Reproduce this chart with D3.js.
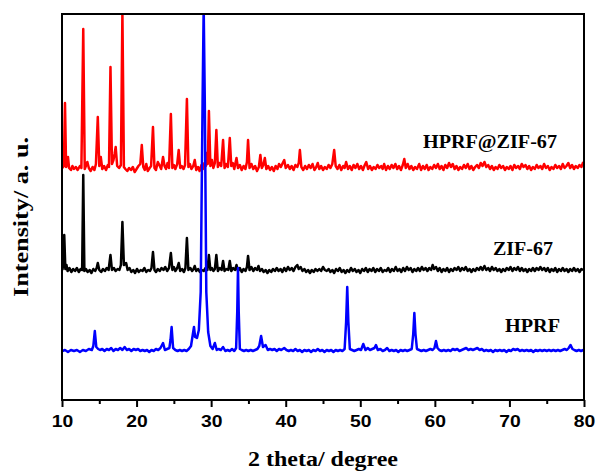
<!DOCTYPE html>
<html>
<head>
<meta charset="utf-8">
<script src="https://cdn.jsdelivr.net/npm/d3@7"></script>
<style>
  body { margin: 0; background: #fff; }
</style>
</head>
<body>
<svg class="svg1" width="598" height="474"></svg>
<script>
// x ticks
const xTicks = [10, 20, 30, 40, 50, 60, 70, 80];
const xMinorTicks = [15, 25, 35, 45, 55, 65, 75];

const seriesNames = ["HPRF@ZIF-67", "ZIF-67", "HPRF"];
const seriesColors = ["#ff0000", "#000000", "#0000ff"];
// vertical offsets (a.u.) of each pattern
const seriesOffsets = [228, 127, 48];

// [2theta, intensity a.u.]
const hprfZif67 = [
[10.05,4],[10.25,6],[10.4,69],[10.55,5],[10.7,8],[10.8,15],[10.95,4],[11.2,2],[11.4,6],[11.6,3],[11.85,5],[12.1,2],[12.4,6],[12.6,4],[12.85,143],[13.05,3],[13.2,6],[13.4,10],[13.6,4],[13.85,1],[14.1,5],[14.35,2],[14.55,8],[14.8,55],[15.0,6],[15.2,15],[15.4,3],[15.65,6],[15.9,2],[16.15,7],[16.3,5],[16.5,105],[16.7,8],[16.9,12],[17.05,18],[17.2,25],[17.4,6],[17.65,4],[17.9,7],[18.1,160],[18.3,5],[18.5,3],[18.75,1],[19.0,4],[19.25,2],[19.5,5],[19.75,0],[20.0,3],[20.25,6],[20.5,8],[20.7,27],[20.9,5],[21.1,2],[21.3,8],[21.5,1],[21.75,4],[21.95,6],[22.2,45],[22.4,4],[22.6,2],[22.85,10],[23.05,7],[23.3,3],[23.55,15],[23.75,6],[23.95,3],[24.15,9],[24.35,4],[24.6,58],[24.8,4],[25.0,7],[25.2,3],[25.45,8],[25.65,22],[25.85,4],[26.05,6],[26.3,3],[26.5,7],[26.75,73],[26.95,5],[27.15,8],[27.35,3],[27.6,6],[27.8,12],[28.0,2],[28.25,5],[28.45,1],[28.7,7],[28.9,3],[29.1,9],[29.3,6],[29.4,19],[29.55,8],[29.7,61],[29.9,6],[30.1,12],[30.3,4],[30.5,9],[30.7,42],[30.9,5],[31.1,9],[31.35,6],[31.6,32],[31.8,4],[32.0,8],[32.25,5],[32.5,34],[32.7,6],[32.9,9],[33.1,3],[33.4,14],[33.6,4],[33.85,7],[34.1,2],[34.35,6],[34.6,3],[34.8,10],[34.95,32],[35.15,4],[35.4,8],[35.65,3],[35.9,6],[36.15,1],[36.4,5],[36.6,17],[36.8,4],[37.0,7],[37.2,14],[37.4,3],[37.65,6],[37.9,2],[38.15,5],[38.4,1],[38.65,6],[38.9,3],[39.1,8],[39.35,5],[39.6,9],[39.8,12],[40.0,4],[40.3,7],[40.55,3],[40.8,6],[41.05,2],[41.3,7],[41.55,5],[41.75,9],[41.9,22],[42.1,5],[42.35,2],[42.6,6],[42.85,3],[43.1,7],[43.35,4],[43.6,8],[43.85,2],[44.1,5],[44.3,9],[44.5,3],[44.75,6],[45.0,2],[45.25,5],[45.5,3],[45.75,7],[46.0,4],[46.25,8],[46.5,22],[46.7,6],[46.95,3],[47.2,7],[47.45,2],[47.7,6],[47.9,4],[48.1,10],[48.35,3],[48.6,6],[48.85,2],[49.1,7],[49.35,4],[49.6,8],[49.85,3],[50.1,6],[50.35,2],[50.6,7],[50.8,10],[51.05,3],[51.3,6],[51.55,2],[51.8,5],[52.05,3],[52.3,7],[52.55,4],[52.8,6],[53.0,3],[53.2,8],[53.45,2],[53.7,6],[53.95,3],[54.2,7],[54.45,4],[54.7,8],[54.95,3],[55.2,6],[55.45,2],[55.7,7],[55.9,13],[56.1,4],[56.35,8],[56.6,3],[56.85,6],[57.1,2],[57.35,5],[57.6,3],[57.9,8],[58.15,2],[58.4,6],[58.65,3],[58.9,7],[59.15,2],[59.4,5],[59.65,3],[59.9,7],[60.15,4],[60.4,8],[60.65,3],[60.9,6],[61.15,2],[61.4,7],[61.65,4],[61.9,9],[62.15,5],[62.4,8],[62.65,3],[62.9,6],[63.15,2],[63.4,5],[63.65,3],[63.9,7],[64.15,4],[64.4,8],[64.65,3],[64.9,6],[65.15,2],[65.4,5],[65.65,7],[65.9,4],[66.15,9],[66.4,6],[66.65,10],[66.9,5],[67.15,7],[67.4,3],[67.65,6],[67.9,2],[68.15,5],[68.4,3],[68.65,7],[68.9,4],[69.15,6],[69.4,2],[69.65,5],[69.9,3],[70.15,6],[70.4,2],[70.65,7],[70.9,4],[71.15,6],[71.4,3],[71.65,8],[71.9,5],[72.15,7],[72.4,3],[72.65,6],[72.9,2],[73.15,5],[73.4,3],[73.65,7],[73.9,4],[74.15,6],[74.4,3],[74.65,8],[74.9,4],[75.15,6],[75.4,2],[75.65,5],[75.9,3],[76.15,7],[76.4,4],[76.65,6],[76.9,3],[77.15,8],[77.4,4],[77.65,6],[77.9,9],[78.15,4],[78.4,7],[78.65,3],[78.9,6],[79.15,4],[79.4,7],[79.65,5],[79.9,10]
];

const zif67 = [
[10.05,3],[10.2,10],[10.3,38],[10.45,4],[10.6,8],[10.75,2],[11.0,5],[11.25,1],[11.5,4],[11.75,2],[12.0,5],[12.25,1],[12.5,4],[12.7,3],[12.85,98],[13.0,2],[13.2,4],[13.45,1],[13.7,3],[13.95,0],[14.2,4],[14.45,2],[14.65,5],[14.8,10],[15.0,3],[15.25,1],[15.5,4],[15.75,2],[16.0,5],[16.25,3],[16.5,18],[16.7,3],[16.95,5],[17.2,2],[17.45,4],[17.7,3],[17.9,8],[18.1,51],[18.3,8],[18.6,10],[18.8,3],[19.05,5],[19.3,1],[19.55,3],[19.8,0],[20.05,4],[20.3,1],[20.55,3],[20.8,2],[21.05,5],[21.3,1],[21.55,3],[21.8,2],[22.0,5],[22.2,21],[22.4,3],[22.6,1],[22.85,4],[23.1,2],[23.35,5],[23.6,3],[23.85,6],[24.1,2],[24.35,5],[24.6,20],[24.8,3],[25.0,6],[25.2,2],[25.45,5],[25.65,10],[25.85,2],[26.1,4],[26.35,1],[26.55,5],[26.75,35],[26.95,3],[27.2,5],[27.45,2],[27.65,4],[27.8,7],[28.0,2],[28.25,4],[28.5,1],[28.75,3],[29.0,2],[29.25,5],[29.5,3],[29.7,18],[29.9,3],[30.1,5],[30.3,2],[30.5,4],[30.7,18],[30.9,2],[31.15,5],[31.4,3],[31.6,12],[31.8,2],[32.05,4],[32.3,3],[32.5,12],[32.7,2],[32.95,5],[33.2,3],[33.4,8],[33.6,2],[33.85,5],[34.1,1],[34.35,4],[34.6,2],[34.8,6],[34.95,17],[35.15,3],[35.4,6],[35.65,2],[35.9,5],[36.15,3],[36.35,7],[36.55,2],[36.8,4],[37.05,1],[37.3,3],[37.55,0],[37.8,3],[38.05,1],[38.3,4],[38.55,2],[38.8,5],[39.05,2],[39.3,4],[39.55,1],[39.8,5],[40.05,2],[40.3,6],[40.55,3],[40.8,5],[41.05,2],[41.3,6],[41.55,8],[41.75,4],[42.0,6],[42.25,2],[42.5,4],[42.75,1],[43.0,3],[43.25,0],[43.5,3],[43.75,1],[44.0,4],[44.25,2],[44.5,4],[44.75,2],[45.0,6],[45.25,3],[45.5,2],[45.75,4],[46.0,1],[46.25,3],[46.5,0],[46.75,4],[47.0,2],[47.25,5],[47.5,1],[47.75,3],[48.0,0],[48.25,3],[48.5,1],[48.75,5],[49.0,2],[49.25,4],[49.5,1],[49.75,3],[50.0,0],[50.25,4],[50.5,2],[50.75,5],[51.0,1],[51.25,4],[51.5,2],[51.75,5],[52.0,1],[52.25,4],[52.5,2],[52.75,5],[53.0,1],[53.25,3],[53.5,2],[53.75,5],[54.0,1],[54.25,4],[54.5,2],[54.75,6],[55.0,2],[55.25,4],[55.5,1],[55.75,5],[56.0,2],[56.25,6],[56.5,3],[56.75,5],[57.0,1],[57.25,4],[57.5,2],[57.75,5],[58.0,2],[58.25,6],[58.5,3],[58.75,5],[59.0,2],[59.25,5],[59.5,3],[59.7,8],[59.9,4],[60.15,6],[60.4,2],[60.65,5],[60.9,1],[61.15,4],[61.4,2],[61.65,5],[61.9,1],[62.15,4],[62.4,2],[62.65,5],[62.9,3],[63.15,6],[63.4,2],[63.65,5],[63.9,3],[64.15,6],[64.4,2],[64.65,4],[64.9,1],[65.15,4],[65.4,2],[65.65,5],[65.9,3],[66.15,6],[66.4,3],[66.65,7],[66.9,3],[67.15,5],[67.4,2],[67.65,6],[67.9,3],[68.15,5],[68.4,2],[68.65,4],[68.9,1],[69.15,4],[69.4,2],[69.65,5],[69.9,3],[70.15,6],[70.4,2],[70.65,5],[70.9,3],[71.15,6],[71.4,2],[71.65,5],[71.9,2],[72.15,4],[72.4,1],[72.65,4],[72.9,2],[73.15,5],[73.4,2],[73.65,5],[73.9,3],[74.15,6],[74.4,3],[74.65,5],[74.9,2],[75.15,5],[75.4,1],[75.65,4],[75.9,2],[76.15,5],[76.4,1],[76.65,4],[76.9,2],[77.15,5],[77.4,2],[77.65,4],[77.9,1],[78.15,4],[78.4,2],[78.65,5],[78.9,2],[79.15,4],[79.4,1],[79.65,4],[79.9,3]
];

const hprf = [
[10.05,1],[10.4,2],[10.8,0],[11.2,2],[11.6,1],[12.0,2],[12.4,0],[12.8,2],[13.2,1],[13.6,3],[14.0,2],[14.2,6],[14.4,21],[14.6,5],[14.85,3],[15.1,2],[15.4,3],[15.7,1],[16.0,3],[16.3,2],[16.6,4],[16.9,1],[17.2,3],[17.5,2],[17.8,4],[18.1,2],[18.4,5],[18.7,2],[19.0,3],[19.3,1],[19.6,3],[19.9,2],[20.2,3],[20.5,1],[20.8,2],[21.1,1],[21.4,2],[21.7,0],[22.0,2],[22.3,1],[22.6,3],[22.9,2],[23.2,4],[23.55,9],[23.8,2],[24.1,3],[24.4,4],[24.55,12],[24.7,25],[24.9,4],[25.2,2],[25.5,1],[25.8,2],[26.1,1],[26.4,2],[26.7,1],[27.0,3],[27.3,6],[27.55,18],[27.7,25],[27.85,15],[28.1,14],[28.35,22],[28.6,60],[28.85,250],[29.0,345],[29.15,250],[29.35,60],[29.6,20],[29.9,6],[30.2,3],[30.5,9],[30.75,2],[31.0,3],[31.3,2],[31.6,5],[31.9,1],[32.2,2],[32.5,1],[32.8,3],[33.1,1],[33.35,4],[33.5,40],[33.6,84],[33.7,40],[33.85,3],[34.1,2],[34.4,1],[34.7,2],[35.0,1],[35.3,2],[35.6,1],[35.9,2],[36.2,3],[36.45,6],[36.7,16],[36.95,5],[37.3,7],[37.6,2],[37.9,3],[38.2,2],[38.5,3],[38.8,1],[39.1,3],[39.4,2],[39.8,4],[40.1,2],[40.4,1],[40.7,2],[41.0,1],[41.3,3],[41.6,1],[41.9,2],[42.2,0],[42.5,2],[42.8,1],[43.1,2],[43.4,0],[43.7,2],[44.0,1],[44.3,3],[44.6,1],[44.9,2],[45.2,0],[45.5,2],[45.8,1],[46.1,2],[46.4,0],[46.7,2],[47.0,1],[47.3,2],[47.6,1],[47.9,3],[48.1,30],[48.25,65],[48.4,30],[48.6,3],[48.9,2],[49.2,1],[49.5,2],[49.8,3],[50.1,2],[50.4,8],[50.7,2],[51.0,4],[51.3,2],[51.6,3],[51.9,4],[52.1,7],[52.35,2],[52.7,3],[53.0,1],[53.3,2],[53.6,4],[53.9,1],[54.2,2],[54.5,1],[54.8,2],[55.1,0],[55.4,2],[55.7,1],[56.0,2],[56.3,1],[56.6,2],[56.9,3],[57.1,18],[57.25,39],[57.4,18],[57.6,3],[57.9,2],[58.2,1],[58.5,2],[58.8,1],[59.1,2],[59.4,3],[59.7,2],[59.95,4],[60.15,11],[60.35,4],[60.6,2],[60.9,1],[61.2,2],[61.5,1],[61.8,2],[62.1,1],[62.4,3],[62.7,2],[63.0,3],[63.3,1],[63.6,2],[63.9,3],[64.2,4],[64.5,2],[64.8,3],[65.1,2],[65.4,3],[65.7,4],[66.0,2],[66.3,3],[66.6,1],[66.9,2],[67.2,1],[67.5,2],[67.8,0],[68.1,2],[68.4,1],[68.7,2],[69.0,1],[69.3,2],[69.6,0],[69.9,2],[70.2,1],[70.5,3],[70.8,2],[71.1,3],[71.4,1],[71.7,2],[72.0,1],[72.3,2],[72.6,1],[72.9,2],[73.2,0],[73.5,2],[73.8,1],[74.1,2],[74.4,1],[74.7,2],[75.0,1],[75.3,2],[75.6,1],[75.9,2],[76.2,1],[76.5,2],[76.8,1],[77.1,2],[77.4,3],[77.7,2],[77.95,4],[78.2,7],[78.45,3],[78.7,2],[79.0,1],[79.3,2],[79.6,1],[79.9,2]
];

const seriesData = [hprfZif67, zif67, hprf];

let leftMargin = 62;
let rightEdge = 584;
let topMargin = 14;
let bottomEdge = 400;

const serif = "'Liberation Serif', 'Times New Roman', serif";
const sans = "'Liberation Sans', Arial, sans-serif";

const svg = d3.select(".svg1");

const xScale = d3.scaleLinear().domain([10, 80]).range([leftMargin, rightEdge]);
const yScale = d3.scaleLinear().domain([0, 386]).range([bottomEdge, topMargin]);

svg.append("defs")
  .append("clipPath")
  .attr("id", "plotClip")
  .append("rect")
  .attr("x", leftMargin)
  .attr("y", topMargin)
  .attr("width", rightEdge - leftMargin)
  .attr("height", bottomEdge - topMargin);

//lines, blue on top
const line = (offset) =>
  d3.line()
    .x((d) => xScale(d[0]))
    .y((d) => yScale(d[1] + offset));

svg.append("g")
  .attr("clip-path", "url(#plotClip)")
  .selectAll("path")
  .data(seriesData)
  .enter()
  .append("path")
  .attr("fill", "none")
  .attr("stroke", (d, i) => seriesColors[i])
  .attr("stroke-width", 2.5)
  .attr("stroke-linejoin", "round")
  .attr("d", (d, i) => line(seriesOffsets[i])(d));

//frame
svg.append("rect")
  .attr("x", leftMargin)
  .attr("y", topMargin)
  .attr("width", rightEdge - leftMargin)
  .attr("height", bottomEdge - topMargin)
  .attr("fill", "none")
  .attr("stroke", "#000")
  .attr("stroke-width", 2);

//xAxis
const xAxis = d3.axisBottom(xScale)
  .tickValues(xTicks)
  .tickSize(7)
  .tickSizeOuter(0)
  .tickPadding(8);

const gx = svg.append("g")
  .attr("transform", `translate(0,${bottomEdge})`)
  .call(xAxis);

gx.select(".domain").remove();
gx.selectAll(".tick line").attr("stroke-width", 2);
gx.selectAll(".tick text")
  .attr("font-family", sans)
  .attr("font-weight", "bold")
  .attr("font-size", "17px")
  .attr("fill", "#000")
  .attr("textLength", 21.5)
  .attr("lengthAdjust", "spacingAndGlyphs");

const xMinor = d3.axisBottom(xScale)
  .tickValues(xMinorTicks)
  .tickSize(4)
  .tickSizeOuter(0)
  .tickFormat("");

const gxm = svg.append("g")
  .attr("transform", `translate(0,${bottomEdge})`)
  .call(xMinor);
gxm.select(".domain").remove();
gxm.selectAll(".tick line").attr("stroke-width", 2);

//axis titles
svg.append("text")
  .attr("x", 323)
  .attr("y", 466)
  .attr("text-anchor", "middle")
  .attr("font-family", serif)
  .attr("font-weight", "bold")
  .attr("font-size", "22px")
  .attr("textLength", 150)
  .attr("lengthAdjust", "spacingAndGlyphs")
  .text("2 theta/ degree");

svg.append("text")
  .attr("transform", "translate(28,217) rotate(-90)")
  .attr("text-anchor", "middle")
  .attr("font-family", serif)
  .attr("font-weight", "bold")
  .attr("font-size", "20px")
  .attr("textLength", 160)
  .attr("lengthAdjust", "spacingAndGlyphs")
  .text("Intensity/ a. u.");

//series labels
const labelX = [423, 493, 505];
const labelY = [148, 255, 332];
const labelW = [134, 60, 55];

svg.selectAll(".label")
  .data(seriesNames)
  .enter()
  .append("text")
  .attr("class", "label")
  .attr("x", (d, i) => labelX[i])
  .attr("y", (d, i) => labelY[i])
  .attr("font-family", serif)
  .attr("font-weight", "bold")
  .attr("font-size", "18px")
  .attr("textLength", (d, i) => labelW[i])
  .attr("lengthAdjust", "spacingAndGlyphs")
  .text((d) => d);
</script>
</body>
</html>
